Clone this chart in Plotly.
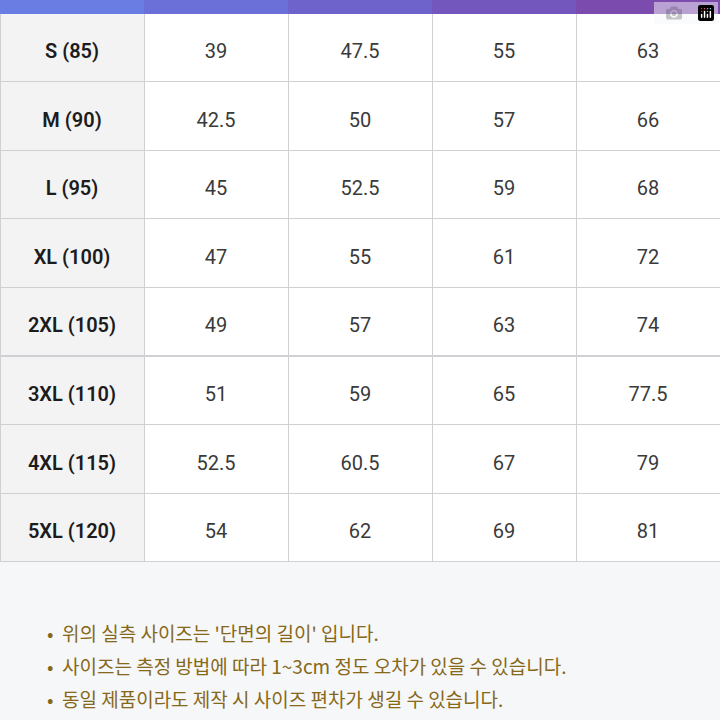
import plotly.graph_objects as go

sizes = ["S (85)", "M (90)", "L (95)", "XL (100)", "2XL (105)", "3XL (110)", "4XL (115)", "5XL (120)"]
col_a = ["39", "42.5", "45", "47", "49", "51", "52.5", "54"]
col_b = ["47.5", "50", "52.5", "55", "57", "59", "60.5", "62"]
col_c = ["55", "57", "59", "61", "63", "65", "67", "69"]
col_d = ["63", "66", "68", "72", "74", "77.5", "79", "81"]
notes = [
    "위의 실측 사이즈는 '단면의 길이' 입니다.",
    "사이즈는 측정 방법에 따라 1~3cm 정도 오차가 있을 수 있습니다.",
    "동일 제품이라도 제작 시 사이즈 편차가 생길 수 있습니다.",
]

W, H = 720, 720
header_h = 13
row_h = 68.6
table_bottom = header_h + row_h * len(sizes) + 1

header_colors = ["#6a7de2", "#6a70d7", "#6d63ca", "#7357bc", "#7c4bae"]
first_col_fill = ["#f3f3f4"] * len(sizes)
white_fill = ["#ffffff"] * len(sizes)


def pad(values):
    # plotly tables put text at the top of the cell; push it to the middle
    return ["<span style='font-size:12px'> </span><br>" + v for v in values]


fig = go.Figure(
    go.Table(
        domain=dict(x=[0, 1], y=[1 - table_bottom / H, 1]),
        columnwidth=[1, 1, 1, 1, 1],
        header=dict(
            values=["", "", "", "", ""],
            height=header_h,
            fill_color=header_colors,
            line_color=header_colors,
        ),
        cells=dict(
            values=[pad(sizes), pad(col_a), pad(col_b), pad(col_c), pad(col_d)],
            height=row_h,
            align="center",
            fill_color=[first_col_fill, white_fill, white_fill, white_fill, white_fill],
            line=dict(color="#cfcfd4", width=1),
            font=dict(
                family="Roboto, Liberation Sans, sans-serif",
                size=20,
                color=["#1c1c1c", "#3a3a3a", "#3a3a3a", "#3a3a3a", "#3a3a3a"],
                weight=[600, 400, 400, 400, 400],
            ),
        ),
    )
)

for i, note in enumerate(notes):
    fig.add_annotation(
        x=45 / W, y=1 - (632 + 33 * i) / H, xref="paper", yref="paper",
        xanchor="left", yanchor="middle", showarrow=False,
        text="•  " + note,
        font=dict(family="Noto Sans CJK KR, sans-serif", size=19, color="#866818"),
    )

fig.update_layout(
    width=W, height=H,
    margin=dict(l=0, r=0, t=0, b=0),
    paper_bgcolor="#f6f7f9",
    plot_bgcolor="#f6f7f9",
)

fig.write_html("out.html", post_script="document.body.style.margin='0';")
